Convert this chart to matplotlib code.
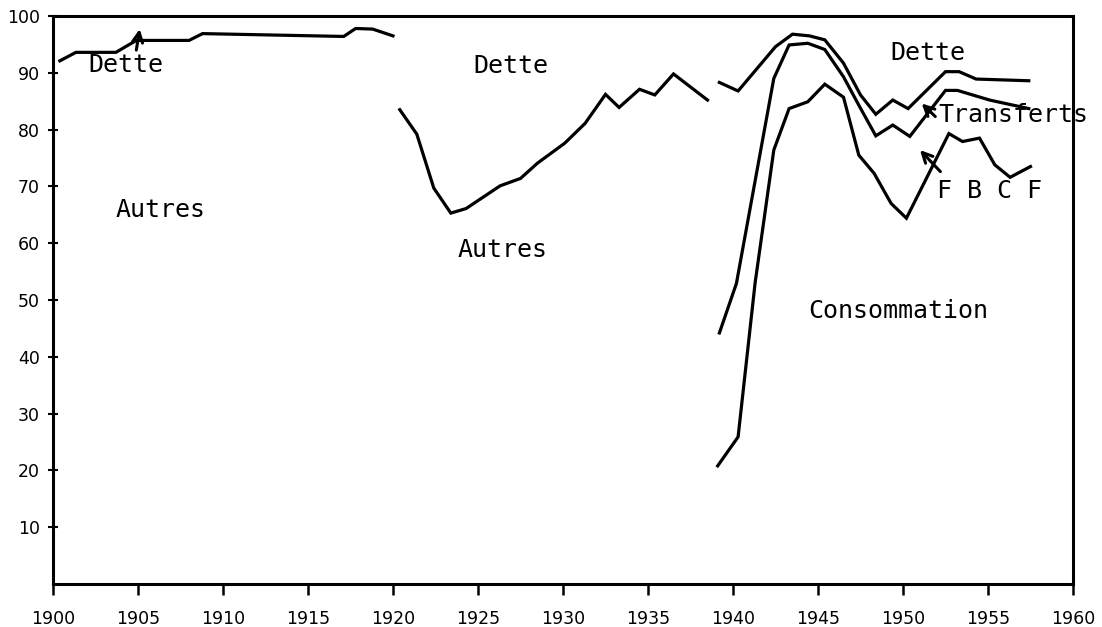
import matplotlib
matplotlib.use("Agg")
import matplotlib.pyplot as plt

# ---- data ----
dette_early_x = [1900.4, 1901.35, 1903.7, 1904.9, 1908.0, 1908.8, 1917.1, 1917.8, 1918.8, 1920.0]
dette_early_y = [92.1, 93.6, 93.6, 95.7, 95.7, 96.9, 96.4, 97.8, 97.7, 96.5]

dette_mid_x = [1920.4, 1921.4, 1922.4, 1923.4, 1924.3, 1926.3, 1927.5, 1928.5, 1930.1,
               1931.3, 1932.5, 1933.3, 1934.5, 1935.4, 1936.5, 1938.5]
dette_mid_y = [83.5, 79.2, 69.7, 65.3, 66.1, 70.1, 71.4, 74.1, 77.6,
               81.1, 86.2, 83.9, 87.1, 86.1, 89.8, 85.2]

dette_late_x = [1939.2, 1940.3, 1942.5, 1943.5, 1944.5, 1945.4, 1946.5, 1947.5, 1948.4,
                1949.4, 1950.3, 1952.5, 1953.3, 1954.3, 1957.4]
dette_late_y = [88.3, 86.8, 94.6, 96.8, 96.5, 95.8, 91.7, 86.1, 82.7,
                85.2, 83.7, 90.2, 90.2, 88.9, 88.6]

transferts_x = [1939.2, 1940.2, 1942.4, 1943.3, 1944.4, 1945.4, 1946.5, 1947.4, 1948.4,
                1949.4, 1950.4, 1952.5, 1953.2, 1955.1, 1957.4]
transferts_y = [44.2, 52.9, 89.0, 94.9, 95.2, 94.1, 89.3, 84.3, 78.9,
                80.8, 78.8, 86.9, 86.9, 85.2, 83.7]

conso_x = [1939.1, 1940.3, 1941.3, 1942.4, 1943.3, 1944.4, 1945.4, 1946.5, 1947.4,
           1948.3, 1949.3, 1950.2, 1952.7, 1953.5, 1954.5, 1955.4, 1956.3, 1957.5]
conso_y = [20.8, 25.9, 53.0, 76.4, 83.7, 84.9, 88.0, 85.7, 75.5,
           72.3, 67.0, 64.4, 79.3, 77.9, 78.5, 73.8, 71.6, 73.5]

x_ticks = list(range(1900, 1961, 5))
y_ticks = list(range(10, 101, 10))

labels = ["Dette", "Dette", "Dette", "Transferts", "F B C F", "Autres", "Autres", "Consommation"]
label_x = [1902.1, 1924.7, 1949.25, 1952.1, 1952.0, 1903.7, 1923.8, 1944.4]
label_y = [90.1, 90.0, 92.3, 81.3, 68.0, 64.6, 57.6, 46.8]

arrow_tail = [(1904.9, 94.0), (1951.9, 82.3), (1952.2, 72.6)]
arrow_head = [(1905.1, 97.7), (1951.1, 84.6), (1951.0, 76.4)]

# ---- figure ----
fig = plt.figure(figsize=(11.02, 6.27), dpi=100)
ax = fig.add_axes([53 / 1102, 43 / 627, 1020 / 1102, 568 / 627])

lw = 2.3
for xs, ys in [(dette_early_x, dette_early_y), (dette_mid_x, dette_mid_y),
               (dette_late_x, dette_late_y), (transferts_x, transferts_y),
               (conso_x, conso_y)]:
    ax.plot(xs, ys, color="black", lw=lw, solid_joinstyle="miter")

ax.set_xlim(1900, 1960)
ax.set_ylim(0, 100)
ax.set_xticks(x_ticks)
ax.set_xticklabels([str(t) for t in x_ticks])
ax.set_yticks(y_ticks)
ax.set_yticklabels([str(t) for t in y_ticks])
ax.tick_params(axis="x", direction="out", length=8, width=1.8, pad=11, labelsize=12.5)
ax.tick_params(axis="y", direction="inout", length=7, width=1.5, pad=6, labelsize=12.5)
for s in ax.spines.values():
    s.set_linewidth(2.2)
    s.set_color("black")

for t, x, y in zip(labels, label_x, label_y):
    ax.text(x, y, t, family="DejaVu Sans Mono", fontsize=18, ha="left", va="baseline",
            color="black")

for (tx, ty), (hx, hy) in zip(arrow_tail, arrow_head):
    ax.annotate("", xy=(hx, hy), xytext=(tx, ty),
                arrowprops=dict(arrowstyle="->", lw=2.2, color="black",
                                mutation_scale=18, shrinkA=0, shrinkB=0))

fig.savefig("out.png", dpi=100, facecolor="white")
